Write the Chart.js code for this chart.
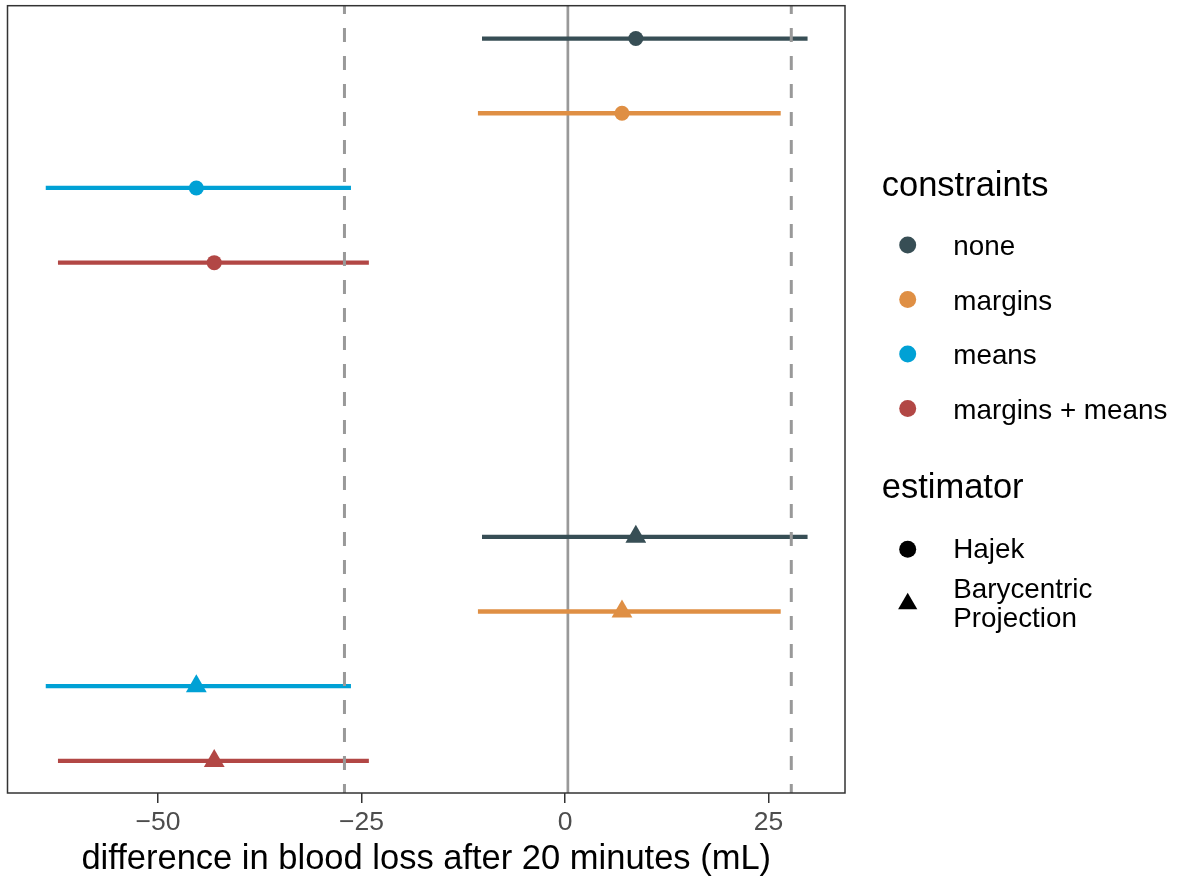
<!DOCTYPE html>
<html>
<head>
<meta charset="utf-8">
<script src="https://cdn.jsdelivr.net/npm/chart.js@4.4.1/dist/chart.umd.min.js"></script>
<style>
  html, body { margin: 0; padding: 0; background: #fff; }
  canvas { display: block; }
</style>
</head>
<body>
<canvas id="chart" width="1181" height="882"></canvas>
<script>
// constraint groups
const constraints = ['none', 'margins', 'means', 'margins + means'];
const estimators = ['Hajek', 'Barycentric Projection'];

// estimates and interval ends (mL), one per constraint
const hajekEst = [8.7, 7.0, -45.3, -43.1];
const hajekLow = [-10.2, -10.7, -63.8, -62.3];
const hajekHigh = [29.8, 26.5, -26.3, -24.1];
const baryEst = [8.7, 7.0, -45.3, -43.1];
const baryLow = [-10.2, -10.7, -63.8, -62.3];
const baryHigh = [29.8, 26.5, -26.3, -24.1];

// row positions on the (hidden) vertical axis
const hajekRow = [1, 2, 3, 4];
const baryRow = [7.67, 8.67, 9.67, 10.67];

// reference lines
const zeroLine = 0.35;
const dashedLines = [-27.1, 27.8];

const xTicks = [-50, -25, 0, 25];
const xRange = [-68.5, 34.4];
const yRange = [0.56, 11.1];

const colours = ['#374E55', '#DF8F44', '#00A1D5', '#B24745'];
const family = '"Liberation Sans", Arial, Helvetica, sans-serif';

const datasets = [];

// dashed lines sit on top of everything
dashedLines.forEach(v => {
    datasets.push({
        data: [{ x: v, y: yRange[0] }, { x: v, y: yRange[1] }],
        showLine: true,
        borderColor: '#999999',
        borderWidth: 3,
        borderDash: [14, 14],
        borderDashOffset: 5.6,
        pointRadius: 0,
        order: 0
    });
});

// point estimates
datasets.push({
    data: hajekEst.map((v, i) => ({ x: v, y: hajekRow[i] })),
    showLine: false,
    pointStyle: 'circle',
    pointRadius: 7.5,
    pointBorderWidth: 0,
    pointBackgroundColor: colours,
    order: 1
});
datasets.push({
    data: baryEst.map((v, i) => ({ x: v, y: baryRow[i] })),
    showLine: false,
    pointStyle: 'triangle',
    pointRadius: 12,
    pointBorderWidth: 0,
    pointBackgroundColor: colours,
    order: 1
});

// intervals
function addRanges(low, high, rows) {
    low.forEach((lo, i) => {
        datasets.push({
            data: [{ x: lo, y: rows[i] }, { x: high[i], y: rows[i] }],
            showLine: true,
            borderColor: colours[i],
            borderWidth: 4.3,
            pointRadius: 0,
            order: 2
        });
    });
}
addRanges(hajekLow, hajekHigh, hajekRow);
addRanges(baryLow, baryHigh, baryRow);

// solid line underneath
datasets.push({
    data: [{ x: zeroLine, y: yRange[0] }, { x: zeroLine, y: yRange[1] }],
    showLine: true,
    borderColor: '#999999',
    borderWidth: 2.7,
    pointRadius: 0,
    order: 3
});

// panel border + two-part legend
const panelAndKey = {
    id: 'panelAndKey',
    afterDatasetsDraw(chart) {
        const { ctx, chartArea: a } = chart;
        ctx.save();
        ctx.strokeStyle = '#333333';
        ctx.lineWidth = 1.5;
        ctx.strokeRect(a.left, a.top, a.right - a.left, a.bottom - a.top);
        ctx.restore();
    },
    afterDraw(chart) {
        const ctx = chart.ctx;
        const x0 = chart.chartArea.right;
        const keyX = x0 + 62.7;
        const textX = x0 + 108.3;
        ctx.save();
        ctx.textAlign = 'left';
        ctx.textBaseline = 'alphabetic';
        ctx.fillStyle = '#000000';
        ctx.font = '34.5px ' + family;
        ctx.fillText('constraints', x0 + 36.7, 196);
        ctx.fillText('estimator', x0 + 36.7, 498);

        ctx.font = '27.8px ' + family;
        constraints.forEach((c, i) => {
            const base = 255 + i * 54.5;
            ctx.fillStyle = colours[i];
            ctx.beginPath();
            ctx.arc(keyX, base - 10, 8.5, 0, Math.PI * 2);
            ctx.fill();
            ctx.fillStyle = '#000000';
            ctx.fillText(c, textX, base);
        });

        // Hajek: circle
        ctx.beginPath();
        ctx.arc(keyX, 549.3, 8.5, 0, Math.PI * 2);
        ctx.fill();
        ctx.fillText(estimators[0], textX, 558);

        // Barycentric Projection: triangle, label on two lines
        const r = 11.1, cy = 603.8;
        ctx.beginPath();
        ctx.moveTo(keyX, cy - r);
        ctx.lineTo(keyX + r * Math.sin(Math.PI * 2 / 3), cy + r / 2);
        ctx.lineTo(keyX - r * Math.sin(Math.PI * 2 / 3), cy + r / 2);
        ctx.closePath();
        ctx.fill();
        estimators[1].split(' ').forEach((w, j) => {
            ctx.fillText(w, textX, 598.3 + j * 28.4);
        });
        ctx.restore();
    }
};

const ctx = document.getElementById('chart').getContext('2d');
new Chart(ctx, {
    type: 'scatter',
    data: { datasets: datasets },
    options: {
        responsive: false,
        animation: false,
        events: [],
        layout: {
            autoPadding: false,
            padding: { left: 7.5, top: 5.7, right: 336, bottom: 0 }
        },
        plugins: {
            legend: { display: false },
            tooltip: { enabled: false }
        },
        scales: {
            x: {
                type: 'linear',
                min: xRange[0],
                max: xRange[1],
                afterBuildTicks: s => { s.ticks = xTicks.map(v => ({ value: v })); },
                afterFit: s => { s.height = 89; },
                grid: {
                    drawOnChartArea: false,
                    drawTicks: true,
                    tickLength: 10,
                    color: '#333333',
                    lineWidth: 1.5
                },
                border: { display: false },
                ticks: {
                    padding: 3.6,
                    color: '#4D4D4D',
                    maxRotation: 0,
                    autoSkip: false,
                    font: { family: family, size: 26.5 },
                    callback: v => v < 0 ? '\u2212' + Math.abs(v) : String(v)
                },
                title: {
                    display: true,
                    text: 'difference in blood loss after 20 minutes (mL)',
                    color: '#000000',
                    font: { family: family, size: 34.5 },
                    padding: { top: 0, bottom: 2 }
                }
            },
            y: {
                type: 'linear',
                reverse: true,
                min: yRange[0],
                max: yRange[1],
                display: false
            }
        }
    },
    plugins: [panelAndKey]
});
</script>
</body>
</html>
